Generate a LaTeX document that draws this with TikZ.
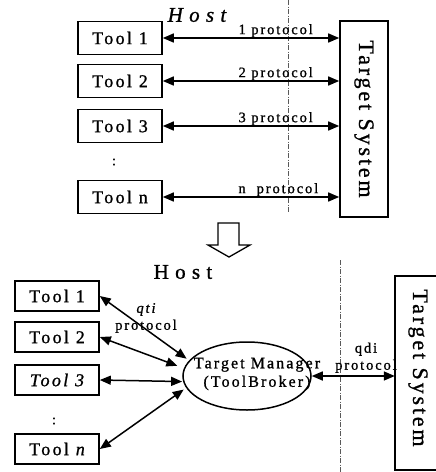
\documentclass[tikz,border=0pt]{standalone}
\usepackage{fontspec}
\setmainfont{Liberation Serif}
\newfontfamily\spacedfont[LetterSpace=13, FakeBold=1]{Liberation Serif}
\newfontfamily\widefont[LetterSpace=30, FakeBold=1]{Liberation Serif}
\usetikzlibrary{arrows.meta,shapes.geometric}

\tikzset{
  toolbox/.style={draw, line width=1.6pt, minimum width=84pt, inner sep=0pt,
    font=\spacedfont\fontsize{18}{20}\selectfont},
  targetbox/.style={inner sep=0pt},
  boxline/.style={line width=1.6pt},
  targettext/.style={rotate=-90, inner sep=0pt,
    font=\spacedfont\fontsize{22}{24}\selectfont},
  link/.style={line width=1.5pt, {Triangle[length=11pt,width=9pt]}-{Triangle[length=11pt,width=9pt]}},
  protolabel/.style={inner sep=0pt, anchor=south, align=center,
    font=\spacedfont\fontsize{14.5}{17}\selectfont},
  divider/.style={gray!70!black, line width=0.6pt,
    dash pattern=on 5pt off 1.5pt on 1pt off 1.5pt},
  hostlabel/.style={inner sep=0pt},
  dots/.style={inner sep=0pt, font=\spacedfont\fontsize{14}{16}\selectfont},
}

\begin{document}
\begin{tikzpicture}[x=1pt, y=-1pt]
\useasboundingbox (0,0) rectangle (436,472);
\clip (0,0) rectangle (436,472);

% ---------- upper part: one protocol per tool ----------
\draw[divider] (288,0) -- (288,212);

\node[hostlabel, font=\widefont\itshape\fontsize{21}{23}\selectfont] (hostA) at (197,15) {Host};

\node[toolbox, minimum height=33pt] (a1) at (120,38) {Tool 1};
\node[toolbox, minimum height=33pt] (a2) at (120,81) {Tool 2};
\node[toolbox, minimum height=33pt] (a3) at (120,126) {Tool 3};
\node[dots] (adots) at (114,162) {:};
\node[toolbox, minimum height=33pt] (an) at (120,197) {Tool n};

\node[targetbox, draw, boxline, minimum width=48pt, minimum height=196pt] (ta) at (364,119) {};
\node[targettext] (tatext) at (ta.center) {Target System};

\draw[link] (a1.east) -- (a1.east -| ta.west)
  node[protolabel, pos=0.64] (p1) {1 protocol};
\draw[link] (a2.east) -- (a2.east -| ta.west)
  node[protolabel, pos=0.64] (p2) {2 protocol};
\draw[link] (a3.east) -- (a3.east -| ta.west)
  node[protolabel, pos=0.64] (p3) {3 protocol};
\draw[link] (an.east) -- (an.east -| ta.west)
  node[protolabel, pos=0.655] (pn) {n\ \ protocol};

% ---------- transition arrow ----------
\draw[line width=1.3pt, line join=miter]
  (218,223) -- (239,223) -- (239,245) -- (250,245) -- (229,257)
  -- (208,245) -- (218,245) -- cycle;

% ---------- lower part: tools behind the Target Manager ----------
\draw[divider] (340,260) -- (340,472);

\node[hostlabel, font=\widefont\fontsize{21}{23}\selectfont] (hostB) at (183,272) {Host};

\node[toolbox, minimum height=30pt] (b1) at (57,296) {Tool 1};
\node[toolbox, minimum height=30pt] (b2) at (57,337) {Tool 2};
\node[toolbox, minimum height=30pt] (b3) at (57,380) {\itshape Tool 3};
\node[dots] (bdots) at (54,421) {:};
\node[toolbox, minimum height=30pt] (bn) at (57,449) {Tool \itshape n};

\node[draw, ellipse, line width=1.5pt, minimum width=128pt, minimum height=68pt,
  inner sep=0pt] (tm) at (247,376) {};
\node[inner sep=0pt, align=center, font=\spacedfont\fontsize{16}{18.5}\selectfont]
  (tmtext) at ([xshift=10pt, yshift=2pt]tm.center) {Target Manager\\(ToolBroker)};

% the target box runs past the right edge of the page
\node[targetbox, minimum width=70pt, minimum height=194pt] (tb) at (430,373) {};
\draw[boxline] (tb.north east) -- (tb.north west) -- (tb.south west) -- (tb.south east);
\node[targettext] (tbtext) at (418,368) {Target System};

\draw[link, shorten >=3pt] (b1.east) -- (tm.165);
\draw[link, shorten >=7pt] (b2.east) -- (tm.173);
\draw[link, shorten >=1pt] (b3.east) -- (tm.185);
\draw[link, shorten >=3pt] (bn.east) -- (tm.191);

\node[protolabel, anchor=center] (qti) at (146,318)
  {{\itshape qti}\\protocol};

\draw[link] (tm.east) -- (tm.east -| tb.west);
\node[protolabel] (qdi) at (366,373) {qdi\\protocol};
\end{tikzpicture}
\end{document}
